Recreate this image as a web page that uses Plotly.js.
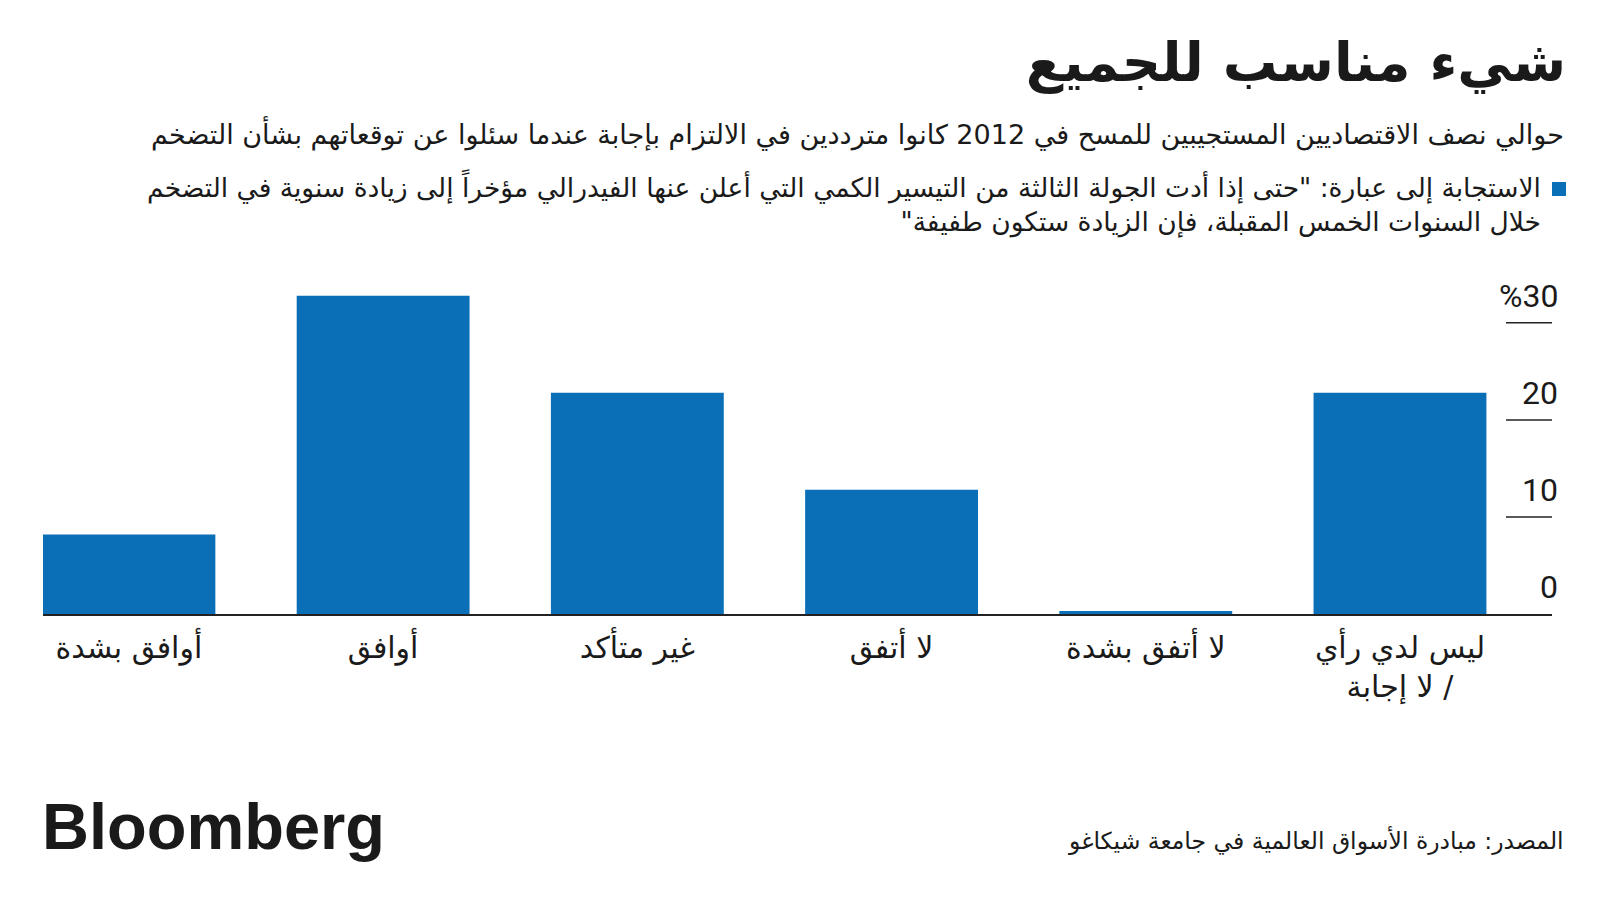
<!DOCTYPE html>
<html>
<head>
<meta charset="utf-8">
<script src="https://cdn.plot.ly/plotly-3.0.1.min.js"></script>
<style>
  html, body { margin: 0; padding: 0; background: #ffffff; }
  #chart { width: 1600px; height: 900px; }
</style>
</head>
<body>
<div id="chart"></div>
<script>
// ---- data ----
const categories = [
  "ليس لدي رأي<br>لا إجابة /",
  "لا أتفق بشدة",
  "لا أتفق",
  "غير متأكد",
  "أوافق",
  "أوافق بشدة"
];
const shares = [22.8, 0.3, 12.8, 22.8, 32.8, 8.2];
const yTicks = [0, 10, 20, 30];
const yTickLabels = ["0", "10", "20", "%30"];

const titleText = "شيء مناسب للجميع";
const subtitleText = "حوالي نصف الاقتصاديين المستجيبين للمسح في 2012 كانوا مترددين في الالتزام بإجابة عندما سئلوا عن توقعاتهم بشأن التضخم";
const legendLine1 = "الاستجابة إلى عبارة: \"حتى إذا أدت الجولة الثالثة من التيسير الكمي التي أعلن عنها الفيدرالي مؤخراً إلى زيادة سنوية في التضخم";
const legendLine2 = "خلال السنوات الخمس المقبلة، فإن الزيادة ستكون طفيفة\"\u200F";
const sourceText = "المصدر: مبادرة الأسواق العالمية في جامعة شيكاغو";

// ---- layout geometry ----
const W = 1600, H = 900;
const ML = 43, MR = 48, MT = 284, MB = 286;
const px = x => (x - ML) / (W - ML - MR);
const py = y => (H - MB - y) / (H - MT - MB);

const FONT = "'DejaVu Sans', 'Noto Sans', sans-serif";
const BLUE = "#0b6fb8";
const INK = "#1a1a1a";

const trace = {
  type: "bar",
  x: categories,
  y: shares,
  marker: { color: BLUE, line: { width: 0 } },
  width: 0.68,
  hoverinfo: "skip"
};

const shapes = yTicks.filter(v => v > 0).map(v => ({
  type: "line", xref: "paper", yref: "y",
  x0: px(1506), x1: 1, y0: v, y1: v,
  line: { color: "#222", width: 1.5 }
}));
// legend swatch
shapes.push({
  type: "rect", xref: "paper", yref: "paper",
  x0: px(1552), x1: px(1566), y0: py(196), y1: py(182),
  fillcolor: BLUE, line: { width: 0 }
});

const annotations = yTicks.map((v, i) => ({
  xref: "paper", yref: "y", x: px(1560), y: v,
  text: yTickLabels[i], showarrow: false,
  xanchor: "right", yanchor: "bottom", yshift: 6,
  font: { family: "Roboto, 'Liberation Sans', sans-serif", size: 32, color: INK }
}));

annotations.push({
  xref: "paper", yref: "paper", x: px(1566), y: py(133),
  text: subtitleText, showarrow: false, xanchor: "right", yanchor: "middle",
  font: { family: FONT, size: 27, color: INK }
});
annotations.push({
  xref: "paper", yref: "paper", x: px(1543), y: py(203),
  text: legendLine1 + "<br>" + legendLine2, showarrow: false,
  xanchor: "right", yanchor: "middle", align: "right",
  font: { family: FONT, size: 26.5, color: INK }
});
annotations.push({
  xref: "paper", yref: "paper", x: px(1566), y: py(840),
  text: sourceText, showarrow: false, xanchor: "right", yanchor: "middle",
  font: { family: FONT, size: 23.5, color: INK }
});
annotations.push({
  xref: "paper", yref: "paper", x: px(40), y: py(826),
  text: "<b>Bloomberg</b>", showarrow: false, xanchor: "left", yanchor: "middle",
  font: { family: "'Liberation Sans', Arial, sans-serif", size: 65, color: INK }
});

const layout = {
  width: W, height: H,
  margin: { l: ML, r: MR, t: MT, b: MB, pad: 0 },
  paper_bgcolor: "#ffffff",
  plot_bgcolor: "#ffffff",
  showlegend: false,
  title: {
    text: "<b>" + titleText + "</b>",
    xref: "container", yref: "container",
    x: 1566 / W, xanchor: "right",
    y: 1 - 62 / H, yanchor: "middle",
    font: { family: FONT, size: 54.5, color: INK }
  },
  xaxis: {
    type: "category",
    range: [5.338, -0.598],
    showgrid: false, zeroline: false,
    showline: true, linecolor: "#222", linewidth: 1.5,
    ticks: "outside", ticklen: 6, tickcolor: "rgba(0,0,0,0)",
    tickfont: { family: FONT, size: 30, color: INK },
    fixedrange: true
  },
  yaxis: {
    range: [0, 34],
    showgrid: false, zeroline: false, showline: false,
    showticklabels: false, ticks: "",
    fixedrange: true
  },
  bargap: 0.32,
  shapes: shapes,
  annotations: annotations
};

Plotly.newPlot("chart", [trace], layout, { displayModeBar: false, staticPlot: true });
</script>
</body>
</html>
